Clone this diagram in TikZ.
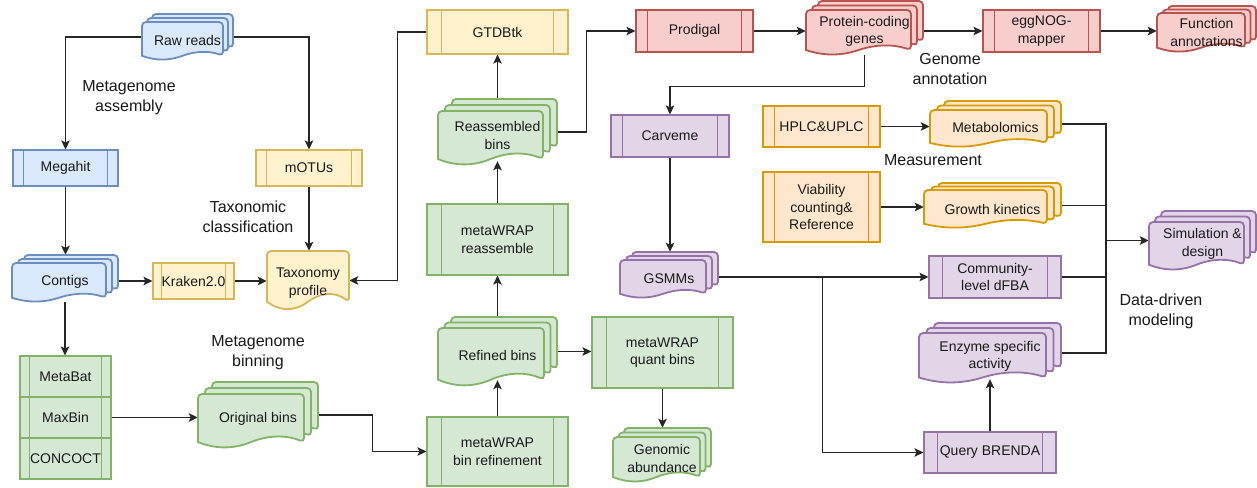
\documentclass[tikz,border=0pt]{standalone}
\usepackage{fontspec}
\setmainfont{Liberation Sans}
\usetikzlibrary{arrows.meta,calc}
\definecolor{blueF}{HTML}{DAE8FC}\definecolor{blueS}{HTML}{6C8EBF}
\definecolor{yelF}{HTML}{FFF2CC}\definecolor{yelS}{HTML}{D6B656}
\definecolor{greenF}{HTML}{D5E8D4}\definecolor{greenS}{HTML}{82B366}
\definecolor{redF}{HTML}{F8CECC}\definecolor{redS}{HTML}{B85450}
\definecolor{purF}{HTML}{E1D5E7}\definecolor{purS}{HTML}{9673A6}
\definecolor{oraF}{HTML}{FFE6CC}\definecolor{oraS}{HTML}{D79B00}
\pgfdeclarelayer{background}
\pgfsetlayers{background,main}
\newcommand\nodefont{\fontsize{14}{17.5}\selectfont}
\newcommand\labfont{\fontsize{16}{20}\selectfont}
\newcommand\docwave{0.22}
\tikzset{
 proc/.style={draw=#1S, fill=#1F, line width=1.1pt, inner sep=0pt, align=center, font=\nodefont, text=black!90,
   path picture={\draw[#1S, line width=1.1pt]
     ($(path picture bounding box.north west)!0.1!(path picture bounding box.north east)$) -- ($(path picture bounding box.south west)!0.1!(path picture bounding box.south east)$)
     ($(path picture bounding box.north east)!0.1!(path picture bounding box.north west)$) -- ($(path picture bounding box.south east)!0.1!(path picture bounding box.south west)$);}},
 docline/.style={fill=#1F, draw=#1S, line width=1.8pt},
 docnode/.style={inner sep=0pt},
 doctext/.style={inner sep=0pt, align=center, font=\nodefont, text=black!90},
 steplabel/.style={align=center, font=\labfont, text=black!90},
 conn/.style={draw=black!85, line width=1.4pt, -{Stealth[length=9pt,width=8.5pt,inset=2pt]}},
 link/.style={draw=black!85, line width=1.4pt},
}
% one sheet of a document shape: colour, L, T, R, B (pixel coords, y down)
\newcommand\docsheet[5]{%
  \pgfmathsetmacro\dsw{(#4)-(#2)}%
  \pgfmathsetmacro\dse{\docwave*((#5)-(#3))}%
  \filldraw[docline=#1] (#2,{#5-0.5*\dse}) [rounded corners=4pt] -- (#2,#3) -- (#4,#3) -- (#4,{#5-0.5*\dse}) [sharp corners]
   .. controls ({#4-\dsw/6},{#5-1.1*\dse}) and ({#2+2*\dsw/3},{#5-1.1*\dse}) .. ({#2+0.5*\dsw},{#5-0.5*\dse})
   .. controls ({#2+\dsw/3},{#5+0.1*\dse}) and ({#2+\dsw/6},{#5+0.1*\dse}) .. (#2,{#5-0.5*\dse}) -- cycle;}
% multi document: colour, name, L, T, R, B, dx, dy, text
\newcommand\mdoc[9]{%
  \foreach \k in {2,1,0}{%
    \pgfmathsetmacro\sL{#3+\k*#7}%
    \pgfmathsetmacro\sR{#5-(2-\k)*#7}%
    \pgfmathsetmacro\sT{#4+(2-\k)*#8}%
    \pgfmathsetmacro\sB{#6-\k*#8}%
    \docsheet{#1}{\sL}{\sT}{\sR}{\sB}}%
  \node[docnode, minimum width={#5-#3}, minimum height={#6-#4}] (#2) at ({(#3+#5)/2},{(#4+#6)/2}) {};
  \node[doctext] (#2t) at ([yshift=-3.5pt]#2.center) {#9};}
% single document: colour, name, L, T, R, B, text
\newcommand\sdoc[7]{%
  \begingroup\renewcommand\docwave{0.28}\docsheet{#1}{#3}{#4}{#5}{#6}\endgroup
  \node[docnode, minimum width={#5-#3}, minimum height={#6-#4}] (#2) at ({(#3+#5)/2},{(#4+#6)/2}) {};
  \node[doctext] (#2t) at ([yshift=-2.5pt]#2.center) {#7};}
% process box: colour, name, L, T, R, B, text
\newcommand\proc[7]{%
  \node[proc=#1, minimum width={#5-#3}, minimum height={#6-#4}] (#2) at ({(#3+#5)/2},{(#4+#6)/2}) {#7};}
\begin{document}
\begin{tikzpicture}[x=1pt,y=-1pt]
\useasboundingbox (0,0) rectangle (1257,487);
\begin{pgfonlayer}{background}
\fill[white] (0,0) rectangle (1257,487);
\end{pgfonlayer}
% process boxes
\proc{blue}{megahit}{13}{150}{118}{186}{Megahit}
\proc{yel}{motus}{256}{150}{362}{186}{mOTUs}
\proc{yel}{kraken}{153}{263}{234}{299}{Kraken2.0}
\proc{green}{metabat}{20}{356}{111}{397}{MetaBat}
\proc{green}{maxbin}{20}{397}{111}{438}{MaxBin}
\proc{green}{concoct}{20}{438}{111}{479}{CONCOCT}
\proc{yel}{gtdbtk}{427}{10}{568}{54}{GTDBtk}
\proc{green}{reassemble}{427}{204}{568}{275}{metaWRAP\\reassemble}
\proc{green}{binref}{427}{417}{568}{486}{metaWRAP\\bin refinement}
\proc{green}{quant}{592}{317}{733}{388}{metaWRAP\\quant bins}
\proc{red}{prodigal}{636}{10}{753}{52}{Prodigal}
\proc{red}{eggnog}{983}{10}{1100}{52}{eggNOG-\\mapper}
\proc{pur}{carveme}{611}{115}{729}{157}{Carveme}
\proc{ora}{hplc}{763}{106}{880}{147}{HPLC\&UPLC}
\proc{ora}{viab}{763}{172}{880}{242}{Viability\\counting\&\\Reference}
\proc{pur}{dfba}{929}{256}{1061}{298}{Community-\\level dFBA}
\proc{pur}{brenda}{924}{432}{1056}{473}{Query BRENDA}
% documents
\mdoc{blue}{raw}{142}{14}{233}{60}{5}{4}{Raw reads}
\mdoc{blue}{contigs}{12}{255}{118}{302}{6}{4}{Contigs}
\mdoc{green}{orig}{198}{382}{318}{448}{7}{6}{Original bins}
\mdoc{green}{reasm}{438}{99}{557}{165}{7}{6}{Reassembled\\bins}
\mdoc{green}{refined}{438}{317}{557}{386}{6.5}{5.5}{Refined bins}
\mdoc{green}{genab}{613}{428}{711}{482}{5.5}{4.5}{Genomic\\abundance}
\mdoc{pur}{gsmm}{620}{252}{718}{298}{6}{4}{GSMMs}
\mdoc{red}{pcg}{806}{1}{923}{55}{6}{4.5}{Protein-coding\\genes}
\mdoc{red}{func}{1157}{6}{1256}{52}{5.5}{3.5}{Function\\annotations}
\mdoc{ora}{metab}{930}{101}{1061}{147}{7}{4.5}{Metabolomics}
\mdoc{ora}{growth}{924}{183}{1061}{228}{7}{3.5}{Growth kinetics}
\mdoc{pur}{enzyme}{919}{323}{1061}{383}{7.5}{5}{Enzyme specific\\activity}
\mdoc{pur}{sim}{1149}{211}{1256}{270}{6}{5.5}{Simulation \&\\design}
\sdoc{yel}{taxprof}{267}{251}{349}{310}{Taxonomy\\profile}
% stage labels
\node[steplabel] (lab1) at (129,98) {Metagenome\\assembly};
\node[steplabel] (lab2) at (248,217) {Taxonomic\\classification};
\node[steplabel] (lab3) at (258,353) {Metagenome\\binning};
\node[steplabel] (lab4) at (950,69) {Genome\\annotation};
\node[steplabel] (lab5) at (933,160) {Measurement};
\node[steplabel] (lab6) at (1161,311) {Data-driven\\modeling};
% connectors
\begin{pgfonlayer}{background}
\draw[conn] (raw.west) -| (megahit.north);
\draw[conn] (raw.east) -| (motus.north);
\draw[conn] (megahit.south) -- (megahit.south |- contigs.north);
\draw[conn] (motus.south) -- (motus.south |- taxprof.north);
\draw[conn] (contigs.east |- kraken.west) -- (kraken.west);
\draw[conn] (kraken.east) -- (kraken.east -| taxprof.west);
\draw[conn] (gtdbtk.west) -- ([xshift=-29pt]gtdbtk.west) |- (taxprof.east);
\draw[conn] (contigs.south) -- (contigs.south |- metabat.north);
\draw[conn] (maxbin.east) -- (maxbin.east -| orig.west);
\draw[conn] (orig.east) -- ([xshift=54pt]orig.east) |- (binref.west);
\draw[conn] (binref.north) -- ([yshift=6pt]refined.south);
\draw[conn] (refined.north) -- (reassemble.south);
\draw[conn] (reassemble.north) -- ([yshift=4pt]reasm.south);
\draw[conn] (reasm.north) -- (gtdbtk.south);
\draw[conn] (reasm.east) -- ([xshift=29pt]reasm.east) |- (prodigal.west);
\draw[conn] (refined.east) -- (refined.east -| quant.west);
\draw[conn] (quant.south) -- (quant.south |- genab.north);
\draw[conn] (prodigal.east) -- (prodigal.east -| pcg.west);
\draw[conn] (pcg.east |- eggnog.west) -- (eggnog.west);
\draw[conn] (eggnog.east) -- (eggnog.east -| func.west);
\draw[conn] (pcg.south) -- ([yshift=-31pt]pcg.south) -| (carveme.north);
\draw[conn] (carveme.south) -- (carveme.south |- gsmm.north);
\draw[conn] (gsmm.east |- dfba.west) -- (dfba.west);
\path (gsmm.east |- dfba.west) ++(104,0) coordinate (split);
\draw[conn] (split) |- (brenda.west);
\draw[conn] (brenda.north) -- ([yshift=4pt]enzyme.south);
\draw[conn] (hplc.east) -- (hplc.east -| metab.west);
\draw[conn] (viab.east) -- (viab.east -| growth.west);
\path (sim.west) ++(-43,0) coordinate (join);
\draw[link] (metab.east) -| (join);
\draw[link] (growth.east) -| (join);
\draw[link] (dfba.east) -| (join);
\draw[link] (enzyme.east) -| (join);
\draw[conn] (join) -- (sim.west);
\end{pgfonlayer}
\end{tikzpicture}
\end{document}
